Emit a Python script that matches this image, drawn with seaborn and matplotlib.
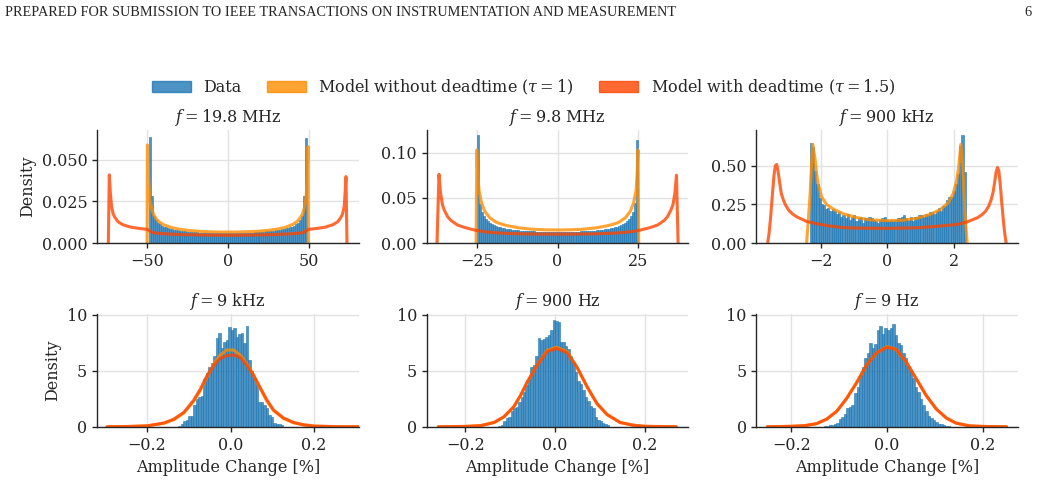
import numpy as np
import pandas as pd
import matplotlib
matplotlib.use("Agg")
import matplotlib.pyplot as plt
from matplotlib.patches import Patch
import seaborn as sns

header = "PREPARED FOR SUBMISSION TO IEEE TRANSACTIONS ON INSTRUMENTATION AND MEASUREMENT"
page_no = "6"
titles = ["$f = 19.8$ MHz", "$f = 9.8$ MHz", "$f = 900$ kHz",
          "$f = 9$ kHz", "$f = 900$ Hz", "$f = 9$ Hz"]
legend_labels = ["Data", r"Model without deadtime ($\tau = 1$)",
                 r"Model with deadtime ($\tau = 1.5$)"]
xlabel = "Amplitude Change [%]"
ylabel = "Density"

# ---- f = 19.8 MHz ----
p1_bins = (-48.9, 1.2225)
p1_hist = [0.064, 0.028, 0.0162, 0.0136, 0.0122, 0.0113, 0.0104, 0.0099, 0.0095, 0.0089,
           0.0087, 0.0083, 0.0081, 0.0078, 0.0077, 0.0074, 0.0073, 0.0071, 0.0070, 0.0069,
           0.0068, 0.0066, 0.0066, 0.0064, 0.0065, 0.0063, 0.0063, 0.0062, 0.0062, 0.0061,
           0.0061, 0.0060, 0.0061, 0.0060, 0.0059, 0.0060, 0.0060, 0.0059, 0.0060, 0.0059,
           0.0060, 0.0059, 0.0060, 0.0059, 0.0060, 0.0061, 0.0060, 0.0061, 0.0061, 0.0062,
           0.0061, 0.0063, 0.0062, 0.0064, 0.0064, 0.0066, 0.0065, 0.0067, 0.0068, 0.0070,
           0.0071, 0.0072, 0.0074, 0.0075, 0.0077, 0.0079, 0.0080, 0.0083, 0.0085, 0.0088,
           0.0090, 0.0095, 0.0098, 0.0104, 0.0112, 0.0121, 0.0137, 0.0160, 0.0285, 0.063]
p1_model_x = [-50.0, -49.8, -49.4, -49.0, -48.5, -48.0, -47.0, -46.0, -45.0, -43.0, -40.0,
              -35.0, -30.0, -25.0, -20.0, -15.0, -10.0, -5.0, 0.0, 5.0, 10.0, 15.0, 20.0,
              25.0, 30.0, 35.0, 40.0, 43.0, 45.0, 46.0, 47.0, 48.0, 48.5, 49.0, 49.3, 49.6, 49.8]
p1_model_y = [0.0, 0.059, 0.045, 0.037, 0.029, 0.0245, 0.0198, 0.0172, 0.0155, 0.0131, 0.0111,
              0.0093, 0.0083, 0.0076, 0.0072, 0.0069, 0.0067, 0.0066, 0.0066, 0.0066, 0.0067,
              0.0069, 0.0072, 0.0076, 0.0083, 0.0093, 0.0111, 0.0131, 0.0155, 0.0172, 0.0198,
              0.0245, 0.029, 0.037, 0.045, 0.058, 0.0]
p1_dead_x = [-74.0, -73.4, -72.8, -72.0, -71.0, -70.0, -68.0, -65.0, -60.0, -55.0, -50.0,
             -47.0, -45.0, -40.0, -30.0, -20.0, -10.0, 0.0, 10.0, 20.0, 30.0, 40.0, 45.0,
             47.0, 50.0, 55.0, 60.0, 65.0, 68.0, 70.0, 71.0, 72.0, 72.6, 73.1, 73.7]
p1_dead_y = [0.0, 0.041, 0.031, 0.022, 0.0175, 0.0155, 0.0128, 0.011, 0.0095, 0.0088, 0.0082,
             0.0065, 0.006, 0.0056, 0.0051, 0.0049, 0.0047, 0.0046, 0.0047, 0.0049, 0.0051,
             0.0056, 0.006, 0.0065, 0.0082, 0.0088, 0.0095, 0.011, 0.0128, 0.0155, 0.0175,
             0.022, 0.031, 0.040, 0.0]

# ---- f = 9.8 MHz ----
p2_bins = (-24.95, 0.6225)
p2_hist = [0.120, 0.043, 0.0345, 0.0298, 0.0262, 0.0241, 0.0222, 0.0210, 0.0197, 0.0189,
           0.0180, 0.0174, 0.0167, 0.0163, 0.0158, 0.0154, 0.0151, 0.0148, 0.0145, 0.0142,
           0.0141, 0.0138, 0.0136, 0.0135, 0.0133, 0.0131, 0.0130, 0.0129, 0.0128, 0.0127,
           0.0126, 0.0125, 0.0124, 0.0124, 0.0123, 0.0124, 0.0123, 0.0122, 0.0123, 0.0122,
           0.0122, 0.0122, 0.0123, 0.0122, 0.0123, 0.0124, 0.0123, 0.0124, 0.0125, 0.0126,
           0.0126, 0.0128, 0.0128, 0.0130, 0.0131, 0.0133, 0.0134, 0.0136, 0.0138, 0.0141,
           0.0143, 0.0145, 0.0148, 0.0152, 0.0155, 0.0159, 0.0163, 0.0168, 0.0174, 0.0181,
           0.0188, 0.0198, 0.0209, 0.0222, 0.0240, 0.0263, 0.0296, 0.0348, 0.0440, 0.114]
p2_model_x = [-25.2, -25.0, -24.7, -24.3, -23.5, -22.5, -21.0, -19.0, -17.0, -15.0, -12.0,
              -8.0, -4.0, 0.0, 4.0, 8.0, 12.0, 15.0, 17.0, 19.0, 21.0, 22.5, 23.5, 24.3,
              24.6, 24.9, 25.1]
p2_model_y = [0.0, 0.103, 0.075, 0.058, 0.044, 0.035, 0.028, 0.023, 0.0205, 0.0188, 0.0168,
              0.0153, 0.0146, 0.0144, 0.0146, 0.0153, 0.0168, 0.0188, 0.0205, 0.023, 0.028,
              0.035, 0.044, 0.058, 0.075, 0.103, 0.0]
p2_dead_x = [-37.3, -36.7, -36.2, -35.6, -35.0, -34.0, -33.0, -31.0, -29.0, -27.0, -25.0,
             -22.0, -18.0, -12.0, -6.0, 0.0, 6.0, 12.0, 18.0, 22.0, 25.0, 27.0, 29.0, 31.0,
             33.0, 34.0, 35.0, 35.7, 36.3, 36.8, 37.3]
p2_dead_y = [0.0, 0.076, 0.055, 0.042, 0.036, 0.029, 0.025, 0.020, 0.0175, 0.0155, 0.0138,
             0.0122, 0.011, 0.0102, 0.0099, 0.0098, 0.0099, 0.0102, 0.011, 0.0122, 0.0138,
             0.0155, 0.0175, 0.020, 0.025, 0.029, 0.036, 0.042, 0.055, 0.075, 0.0]

# ---- f = 900 kHz ----
p3_bins = (-2.32, 0.065)
p3_hist = [0.65, 0.62, 0.47, 0.38, 0.29, 0.25, 0.245, 0.22, 0.23, 0.21,
           0.22, 0.205, 0.19, 0.20, 0.17, 0.18, 0.16, 0.19, 0.15, 0.17,
           0.18, 0.14, 0.16, 0.17, 0.13, 0.16, 0.16, 0.17, 0.16, 0.15,
           0.14, 0.13, 0.15, 0.16, 0.17, 0.15, 0.14, 0.15, 0.14, 0.15,
           0.16, 0.16, 0.17, 0.18, 0.16, 0.15, 0.17, 0.14, 0.17, 0.17,
           0.18, 0.18, 0.17, 0.19, 0.18, 0.20, 0.20, 0.19, 0.21, 0.23,
           0.21, 0.24, 0.24, 0.28, 0.30, 0.30, 0.34, 0.38, 0.45, 0.63,
           0.70, 0.46]
p3_model_x = [-2.42, -2.32, -2.24, -2.17, -2.12, -2.07, -1.97, -1.82, -1.62, -1.32, -0.92,
              -0.52, 0.0, 0.48, 0.88, 1.28, 1.58, 1.83, 1.98, 2.08, 2.15, 2.21, 2.27, 2.33, 2.40]
p3_model_y = [0.0, 0.30, 0.64, 0.55, 0.45, 0.38, 0.30, 0.25, 0.22, 0.19, 0.165,
              0.15, 0.145, 0.148, 0.16, 0.185, 0.215, 0.26, 0.32, 0.40, 0.50, 0.64, 0.50,
              0.20, 0.0]
p3_dead_x = [-3.59, -3.55, -3.50, -3.45, -3.40, -3.36, -3.32, -3.28, -3.23, -3.18, -3.12,
             -3.05, -2.95, -2.85, -2.72, -2.42, -2.12, -1.72, -1.32, -0.92, 0.0, 0.92, 1.58,
             2.08, 2.38, 2.72, 2.85, 2.95, 3.05, 3.12, 3.18, 3.23, 3.27, 3.31, 3.35, 3.39,
             3.44, 3.49, 3.53, 3.57]
p3_dead_y = [0.0, 0.06, 0.17, 0.31, 0.44, 0.50, 0.51, 0.47, 0.39, 0.32, 0.28,
             0.245, 0.21, 0.19, 0.17, 0.14, 0.125, 0.11, 0.10, 0.097, 0.095, 0.099, 0.11,
             0.12, 0.135, 0.165, 0.185, 0.205, 0.24, 0.28, 0.33, 0.40, 0.46, 0.49, 0.47, 0.39,
             0.26, 0.14, 0.06, 0.0]

# ---- f = 9 kHz ----
p4_bins = (-0.126, 0.006)
p4_hist = [0.1, 0.3, 0.5, 0.6, 1.0, 1.0, 2.0, 2.5, 2.7, 2.8,
           4.3, 4.8, 5.3, 5.7, 6.3, 7.9, 8.4, 7.0, 7.6, 7.7,
           8.9, 8.6, 8.8, 8.0, 8.3, 8.4, 7.5, 9.0, 6.0, 5.0,
           4.4, 3.7, 2.2, 2.2, 2.0, 1.7, 1.1, 0.9, 0.4, 0.3,
           0.3, 0.2]
p4_curve_x = [-0.296, -0.25, -0.2, -0.16, -0.136, -0.112, -0.088, -0.072, -0.056, -0.04,
              -0.025, -0.009, 0.007, 0.023, 0.039, 0.055, 0.071, 0.087, 0.103, 0.127,
              0.151, 0.175, 0.2, 0.25, 0.307]
p4_model_y = [0.02, 0.04, 0.1, 0.33, 0.65, 1.25, 2.3, 3.3, 4.5, 5.6,
              6.4, 6.85, 6.85, 6.4, 5.6, 4.6, 3.4, 2.3, 1.45, 0.75,
              0.38, 0.18, 0.08, 0.03, 0.02]
p4_dead_y = [0.02, 0.04, 0.1, 0.35, 0.7, 1.3, 2.4, 3.4, 4.6, 5.5,
             6.1, 6.35, 6.4, 6.2, 5.5, 4.6, 3.5, 2.4, 1.5, 0.8,
             0.4, 0.2, 0.08, 0.03, 0.02]

# ---- f = 900 Hz ----
p5_bins = (-0.1265, 0.0055)
p5_hist = [0.1, 0.2, 0.5, 0.8, 0.9, 1.4, 1.7, 1.8, 2.2, 2.7,
           3.1, 3.7, 4.4, 5.3, 5.5, 6.3, 7.9, 7.7, 7.8, 8.0,
           8.2, 8.6, 9.5, 9.4, 9.3, 7.6, 7.6, 7.2, 6.9, 6.3,
           5.7, 4.9, 4.1, 3.8, 3.3, 2.7, 2.3, 1.9, 1.7, 0.9,
           0.6, 0.5, 0.35, 0.25, 0.15]
p5_curve_x = [-0.26, -0.2, -0.166, -0.136, -0.114, -0.092, -0.077, -0.062, -0.04, -0.018,
              0.003, 0.027, 0.049, 0.071, 0.093, 0.116, 0.145, 0.175, 0.2, 0.27]
p5_model_y = [0.02, 0.05, 0.12, 0.4, 0.9, 1.8, 2.8, 4.0, 5.5, 6.8,
              7.1, 6.7, 5.3, 3.6, 2.1, 1.1, 0.4, 0.15, 0.06, 0.02]
p5_dead_y = [0.02, 0.05, 0.12, 0.4, 0.9, 1.8, 2.8, 4.0, 5.5, 6.7,
             7.0, 6.6, 5.3, 3.6, 2.1, 1.1, 0.4, 0.15, 0.06, 0.02]

# ---- f = 9 Hz ----
p6_bins = (-0.1325, 0.0053)
p6_hist = [0.05, 0.1, 0.15, 0.2, 0.3, 0.4, 0.7, 0.9, 1.2, 1.7,
           1.8, 2.0, 3.0, 3.6, 4.6, 5.3, 6.1, 6.6, 7.5, 7.0,
           7.4, 8.6, 9.0, 8.3, 8.8, 8.6, 8.8, 9.2, 8.2, 7.5,
           7.3, 6.6, 6.1, 5.4, 5.0, 4.4, 3.6, 3.1, 2.5, 2.0,
           1.4, 1.0, 0.8, 0.6, 0.45, 0.3, 0.25, 0.15, 0.1, 0.05]
p6_curve_x = [-0.25, -0.2, -0.172, -0.147, -0.126, -0.105, -0.085, -0.064, -0.043, -0.022,
              0.0, 0.019, 0.04, 0.061, 0.082, 0.103, 0.124, 0.144, 0.172, 0.2, 0.25]
p6_model_y = [0.02, 0.06, 0.12, 0.3, 0.7, 1.4, 2.5, 3.9, 5.5, 6.6,
              7.15, 6.9, 5.8, 4.3, 2.8, 1.6, 0.8, 0.35, 0.1, 0.05, 0.02]
p6_dead_y = [0.02, 0.06, 0.12, 0.3, 0.7, 1.4, 2.5, 3.9, 5.5, 6.6,
             7.1, 6.9, 5.8, 4.3, 2.8, 1.6, 0.8, 0.35, 0.1, 0.05, 0.02]

panels = [
    (p1_bins, p1_hist, p1_model_x, p1_model_y, p1_dead_x, p1_dead_y,
     (-81, 81), (0, 0.068), [-50, 0, 50], [0, 0.025, 0.05]),
    (p2_bins, p2_hist, p2_model_x, p2_model_y, p2_dead_x, p2_dead_y,
     (-40.5, 40.5), (0, 0.125), [-25, 0, 25], [0, 0.05, 0.10]),
    (p3_bins, p3_hist, p3_model_x, p3_model_y, p3_dead_x, p3_dead_y,
     (-3.93, 3.93), (0, 0.733), [-2, 0, 2], [0, 0.25, 0.5]),
    (p4_bins, p4_hist, p4_curve_x, p4_model_y, p4_curve_x, p4_dead_y,
     (-0.32, 0.307), (0, 10.05), [-0.2, 0, 0.2], [0, 5, 10]),
    (p5_bins, p5_hist, p5_curve_x, p5_model_y, p5_curve_x, p5_dead_y,
     (-0.286, 0.297), (0, 10.05), [-0.2, 0, 0.2], [0, 5, 10]),
    (p6_bins, p6_hist, p6_curve_x, p6_model_y, p6_curve_x, p6_dead_y,
     (-0.273, 0.274), (0, 10.05), [-0.2, 0, 0.2], [0, 5, 10]),
]

data_color = "tab:blue"
model_color = "darkorange"
dead_color = "orangered"

sns.set_style("ticks")
plt.rcParams["font.family"] = ["DejaVu Serif"]
plt.rcParams["mathtext.fontset"] = "dejavuserif"
plt.rcParams["font.size"] = 11.5

fig, axes = plt.subplots(2, 3, figsize=(10.41, 4.86), dpi=100)
fig.subplots_adjust(left=0.0932, right=0.978, bottom=0.1214, top=0.7325,
                    wspace=0.2595, hspace=0.628)

for i, (ax, p) in enumerate(zip(axes.flat, panels)):
    bins, heights, mx, my, dx, dy, xlim, ylim, xt, yt = p
    start, width = bins
    edges = start + width * np.arange(len(heights) + 1)
    hist_df = pd.DataFrame({"center": edges[:-1] + width / 2, "height": heights})
    sns.histplot(data=hist_df, x="center", weights="height", bins=list(edges),
                 stat="count", color=data_color, alpha=0.8, edgecolor=data_color,
                 linewidth=0.4, ax=ax)
    sns.lineplot(x=mx, y=my, color=model_color, alpha=0.8, lw=2.2, ax=ax)
    sns.lineplot(x=dx, y=dy, color=dead_color, alpha=0.8, lw=2.2, ax=ax)
    ax.set_xlim(*xlim)
    ax.set_ylim(*ylim)
    ax.set_xticks(xt)
    ax.set_yticks(yt)
    ax.set_title(titles[i], fontsize=11.5, pad=6)
    ax.grid(True, color="#e2e2e2", lw=1.0)
    ax.set_axisbelow(True)
    ax.tick_params(labelsize=11.5, length=3.5, width=1.0)
    ax.set_ylabel(ylabel if i % 3 == 0 else "", fontsize=11.5)
    ax.set_xlabel(xlabel if i >= 3 else "", fontsize=11.5)
    for s in ["left", "bottom"]:
        ax.spines[s].set_linewidth(1.0)

sns.despine(fig)

handles = [Patch(color=data_color, alpha=0.8),
           Patch(color=model_color, alpha=0.8),
           Patch(color=dead_color, alpha=0.8)]
fig.legend(handles, legend_labels, loc="center", bbox_to_anchor=(0.503, 0.821),
           ncol=3, frameon=False, fontsize=11.5, handlelength=2.4,
           columnspacing=1.6, handletextpad=0.8)

fig.text(0.005, 1 - 12 / 486, header, family="Liberation Serif", fontsize=10.25,
         va="center", ha="left")
fig.text(0.991, 1 - 12 / 486, page_no, family="Liberation Serif", fontsize=10.25,
         va="center", ha="right")

fig.savefig("out.png", dpi=100)
